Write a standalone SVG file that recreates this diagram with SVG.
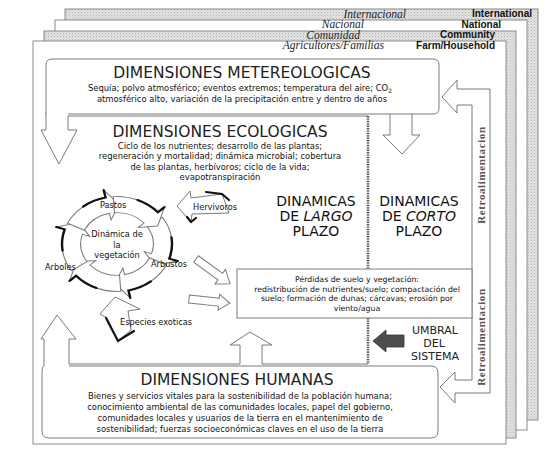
<svg xmlns="http://www.w3.org/2000/svg" width="550" height="450" viewBox="0 0 550 450">
<defs>
<pattern id="hatch" width="3" height="3" patternUnits="userSpaceOnUse"><rect width="3" height="3" fill="#e2e2e2"/><rect width="1" height="1" fill="#b4b4b4"/><rect x="1.5" y="1.5" width="1" height="1" fill="#c8c8c8"/></pattern>
<path id="ca" d="M41.45,-27.96 A50,50 0 0 1 47.55,15.45 L55.16,17.92 L34.81,22.6 L24.73,8.03 L31.39,10.2 A33,33 0 0 0 27.36,-18.45 Z"/>
<path id="cb" d="M49.51,-6.96 A50,50 0 0 1 47.55,15.45 L55.16,17.92"/>
</defs>
<style>
.pg{stroke:#8a8a8a;stroke-width:1}
.ol{fill:#fff;stroke:#7a7a7a;stroke-width:1}
.blk{fill:none;stroke:#111;stroke-width:2.2;stroke-linecap:round}
.it{font-family:"Liberation Serif",serif;font-style:italic;font-size:11.5px;fill:#222;text-anchor:end}
.en{font-family:"Liberation Sans",Arial,sans-serif;font-weight:bold;font-size:10px;fill:#111;text-anchor:end}
.ttl{font-family:"DejaVu Sans",sans-serif;font-size:15.5px;fill:#222;text-anchor:middle}
.dyn{font-family:"DejaVu Sans",sans-serif;font-size:14px;fill:#111;text-anchor:middle}
.bd{font-family:"DejaVu Sans",sans-serif;font-size:8.4px;fill:#111;text-anchor:middle}
.sm{font-family:"DejaVu Sans",sans-serif;font-size:7.8px;fill:#111;text-anchor:middle}
.lb{font-family:"DejaVu Sans",sans-serif;font-size:8.2px;fill:#111}
.um{font-family:"DejaVu Sans",sans-serif;font-size:11px;fill:#222;text-anchor:middle}
.rt{font-family:"Liberation Serif",serif;font-weight:bold;font-size:11px;fill:#555;text-anchor:middle;letter-spacing:0.6px}
</style>
<rect width="550" height="450" fill="#fff"/>
<g id="pages">
<rect class="pg" x="65" y="9" width="473" height="411" fill="url(#hatch)"/>
<rect class="pg" x="55" y="20" width="472" height="410" fill="#fff"/>
<rect class="pg" x="44" y="31" width="472" height="407" fill="url(#hatch)"/>
<rect class="pg" x="33" y="41" width="473" height="403" fill="#fff"/>
<text class="it" x="406" y="17.5">Internacional</text>
<text class="en" x="532" y="17">International</text>
<text class="it" x="364" y="28">Nacional</text>
<text class="en" x="501" y="27.5">National</text>
<text class="it" x="360" y="38.5">Comunidad</text>
<text class="en" x="495" y="38">Community</text>
<text class="it" x="384" y="49">Agricultores/Familias</text>
<text class="en" x="495" y="48.5">Farm/Household</text>
</g>
<g id="connectors">
<path class="ol" d="M390,113 L390,135 L383,135 L402,154 L420,135 L412,135 L412,113"/>
<path class="ol" d="M46,112 L46,130 L41,130 L59,164 L77,130 L68,130 L68,116 L368,116"/>
<path class="ol" d="M44,366 L44,339 L41,339 L57,315 L76,339 L69,339 L69,364 L240,364 L240,345 L230,345 L250,332 L272,345 L262,345 L262,364 L368,364"/>
<path class="ol" d="M442,97 L457,80 L457,89 L490,89 L490,393 L455,393 L455,403 L440,387 L455,372 L455,380 L472,380 L472,105 L457,105 L457,113 Z"/>
<line x1="368" y1="116" x2="368" y2="269" stroke="#555" stroke-width="2.6" stroke-dasharray="1.4 1"/>
<line x1="368" y1="318" x2="368" y2="364" stroke="#555" stroke-width="2.6" stroke-dasharray="1.4 1"/>
<path d="M373,341 L386,330 L386,335 L404,335 L404,347 L386,347 L386,352 Z" fill="#4d4d4d" stroke="#333" stroke-width="0.8"/>
<g id="arrow-perdidas-1" transform="translate(196,259) rotate(36)">
<path class="ol" d="M0,-4 L30,-4 L30,-9 L42,0 L30,9 L30,4 L0,4 Z"/>
</g>
<g id="arrow-perdidas-2" transform="translate(189,299) rotate(6)">
<path class="ol" d="M0,-4 L30,-4 L30,-8 L41,0 L30,8 L30,4 L0,4 Z"/>
</g>
</g>
<g id="meteo">
<path class="ol" d="M68,114 L433,114 Q439,114 439,108 L439,65 Q439,59 433,59 L52,59 Q46,59 46,65 L46,114"/>
<text class="ttl" x="242" y="78">DIMENSIONES METEREOLOGICAS</text>
<text class="bd" x="240" y="91">Sequía; polvo atmosférico; eventos extremos; temperatura del aire; CO<tspan font-size="6" dy="2">2</tspan></text>
<text class="bd" x="242" y="102">atmosférico alto, variación de la precipitación entre y dentro de años</text>
</g>
<g id="ecologicas">
<text class="ttl" x="220" y="137">DIMENSIONES ECOLOGICAS</text>
<text class="bd" x="220" y="148.5">Ciclo de los nutrientes; desarrollo de las plantas;</text>
<text class="bd" x="220" y="159">regeneración y mortalidad; dinámica microbial; cobertura</text>
<text class="bd" x="220" y="169.5">de las plantas, herbívoros; ciclo de la vida;</text>
<text class="bd" x="220" y="180">evapotranspiración</text>
</g>
<g id="ciclo" transform="translate(117,244) scale(1.1,0.95)">
<g><use href="#ca" class="ol"/><use href="#cb" class="blk"/></g>
<g transform="rotate(60)"><use href="#ca" class="ol"/><use href="#cb" class="blk"/></g>
<g transform="rotate(120)"><use href="#ca" class="ol"/><use href="#cb" class="blk"/></g>
<g transform="rotate(180)"><use href="#ca" class="ol"/><use href="#cb" class="blk"/></g>
<g transform="rotate(240)"><use href="#ca" class="ol"/><use href="#cb" class="blk"/></g>
<g transform="rotate(300)"><use href="#ca" class="ol"/><use href="#cb" class="blk"/></g>
</g>
<g id="vegetacion">
<text class="lb" x="117" y="237" text-anchor="middle">Dinámica de</text>
<text class="lb" x="117" y="248" text-anchor="middle">la</text>
<text class="lb" x="117" y="258" text-anchor="middle">vegetación</text>
<text class="lb" x="100" y="208">Pastos</text>
<text class="lb" x="151" y="267">Arbustos</text>
<text class="lb" x="45" y="270">Arboles</text>
</g>
<g id="hervivoros">
<path class="ol" d="M177,206 L190,191 L191,198 L222,194 L229,213 L192,214 L191,222 Z"/>
<path class="blk" d="M206,192 L222,194 L229,200"/>
<path class="blk" d="M196,218 L191,222 L187,217"/>
<text class="lb" x="193" y="210">Hervivoros</text>
</g>
<g id="especies">
<path class="ol" d="M100,314 L115,297 L140,309 L128,311 L131,330 L118,341 L107,318 L100,314 Z"/>
<path class="blk" d="M106,318 L118,341 L134,331"/>
<text class="lb" x="120" y="325">Especies exoticas</text>
</g>
<g id="dinamicas-largo">
<text class="dyn" x="316" y="206">DINAMICAS</text>
<text class="dyn" x="316" y="221">DE <tspan font-style="italic">LARGO</tspan></text>
<text class="dyn" x="316" y="236">PLAZO</text>
</g>
<g id="dinamicas-corto">
<text class="dyn" x="419" y="206">DINAMICAS</text>
<text class="dyn" x="419" y="221">DE <tspan font-style="italic">CORTO</tspan></text>
<text class="dyn" x="419" y="236">PLAZO</text>
</g>
<g id="perdidas">
<rect class="ol" x="237" y="269" width="235" height="49"/>
<text class="sm" x="357" y="282">Pérdidas de suelo y vegetación:</text>
<text class="sm" x="357" y="291.5">redistribución de nutrientes/suelo; compactación del</text>
<text class="sm" x="357" y="301">suelo; formación de dunas; cárcavas; erosión por</text>
<text class="sm" x="357" y="310.5">viento/agua</text>
</g>
<g id="umbral">
<text class="um" x="435" y="334">UMBRAL</text>
<text class="um" x="434" y="347">DEL</text>
<text class="um" x="435" y="360">SISTEMA</text>
</g>
<g id="retro">
<text class="rt" transform="translate(485,175) rotate(-90)">Retroalimentacion</text>
<text class="rt" transform="translate(485,337) rotate(-90)">Retroalimentacion</text>
</g>
<g id="humanas">
<path class="ol" d="M69,366 L431,366 Q438,366 438,373 L438,431 Q438,438 431,438 L49,438 Q42,438 42,431 L42,373 Q42,366 44,366"/>
<text class="ttl" x="237" y="385">DIMENSIONES HUMANAS</text>
<text class="bd" x="240" y="399">Bienes y servicios vitales para la sostenibilidad de la población humana;</text>
<text class="bd" x="240" y="410">conocimiento ambiental de las comunidades locales, papel del gobierno,</text>
<text class="bd" x="240" y="421">comunidades locales y usuarios de la tierra en el mantenimiento de</text>
<text class="bd" x="240" y="432">sostenibilidad; fuerzas socioeconómicas claves en el uso de la tierra</text>
</g>
</svg>
